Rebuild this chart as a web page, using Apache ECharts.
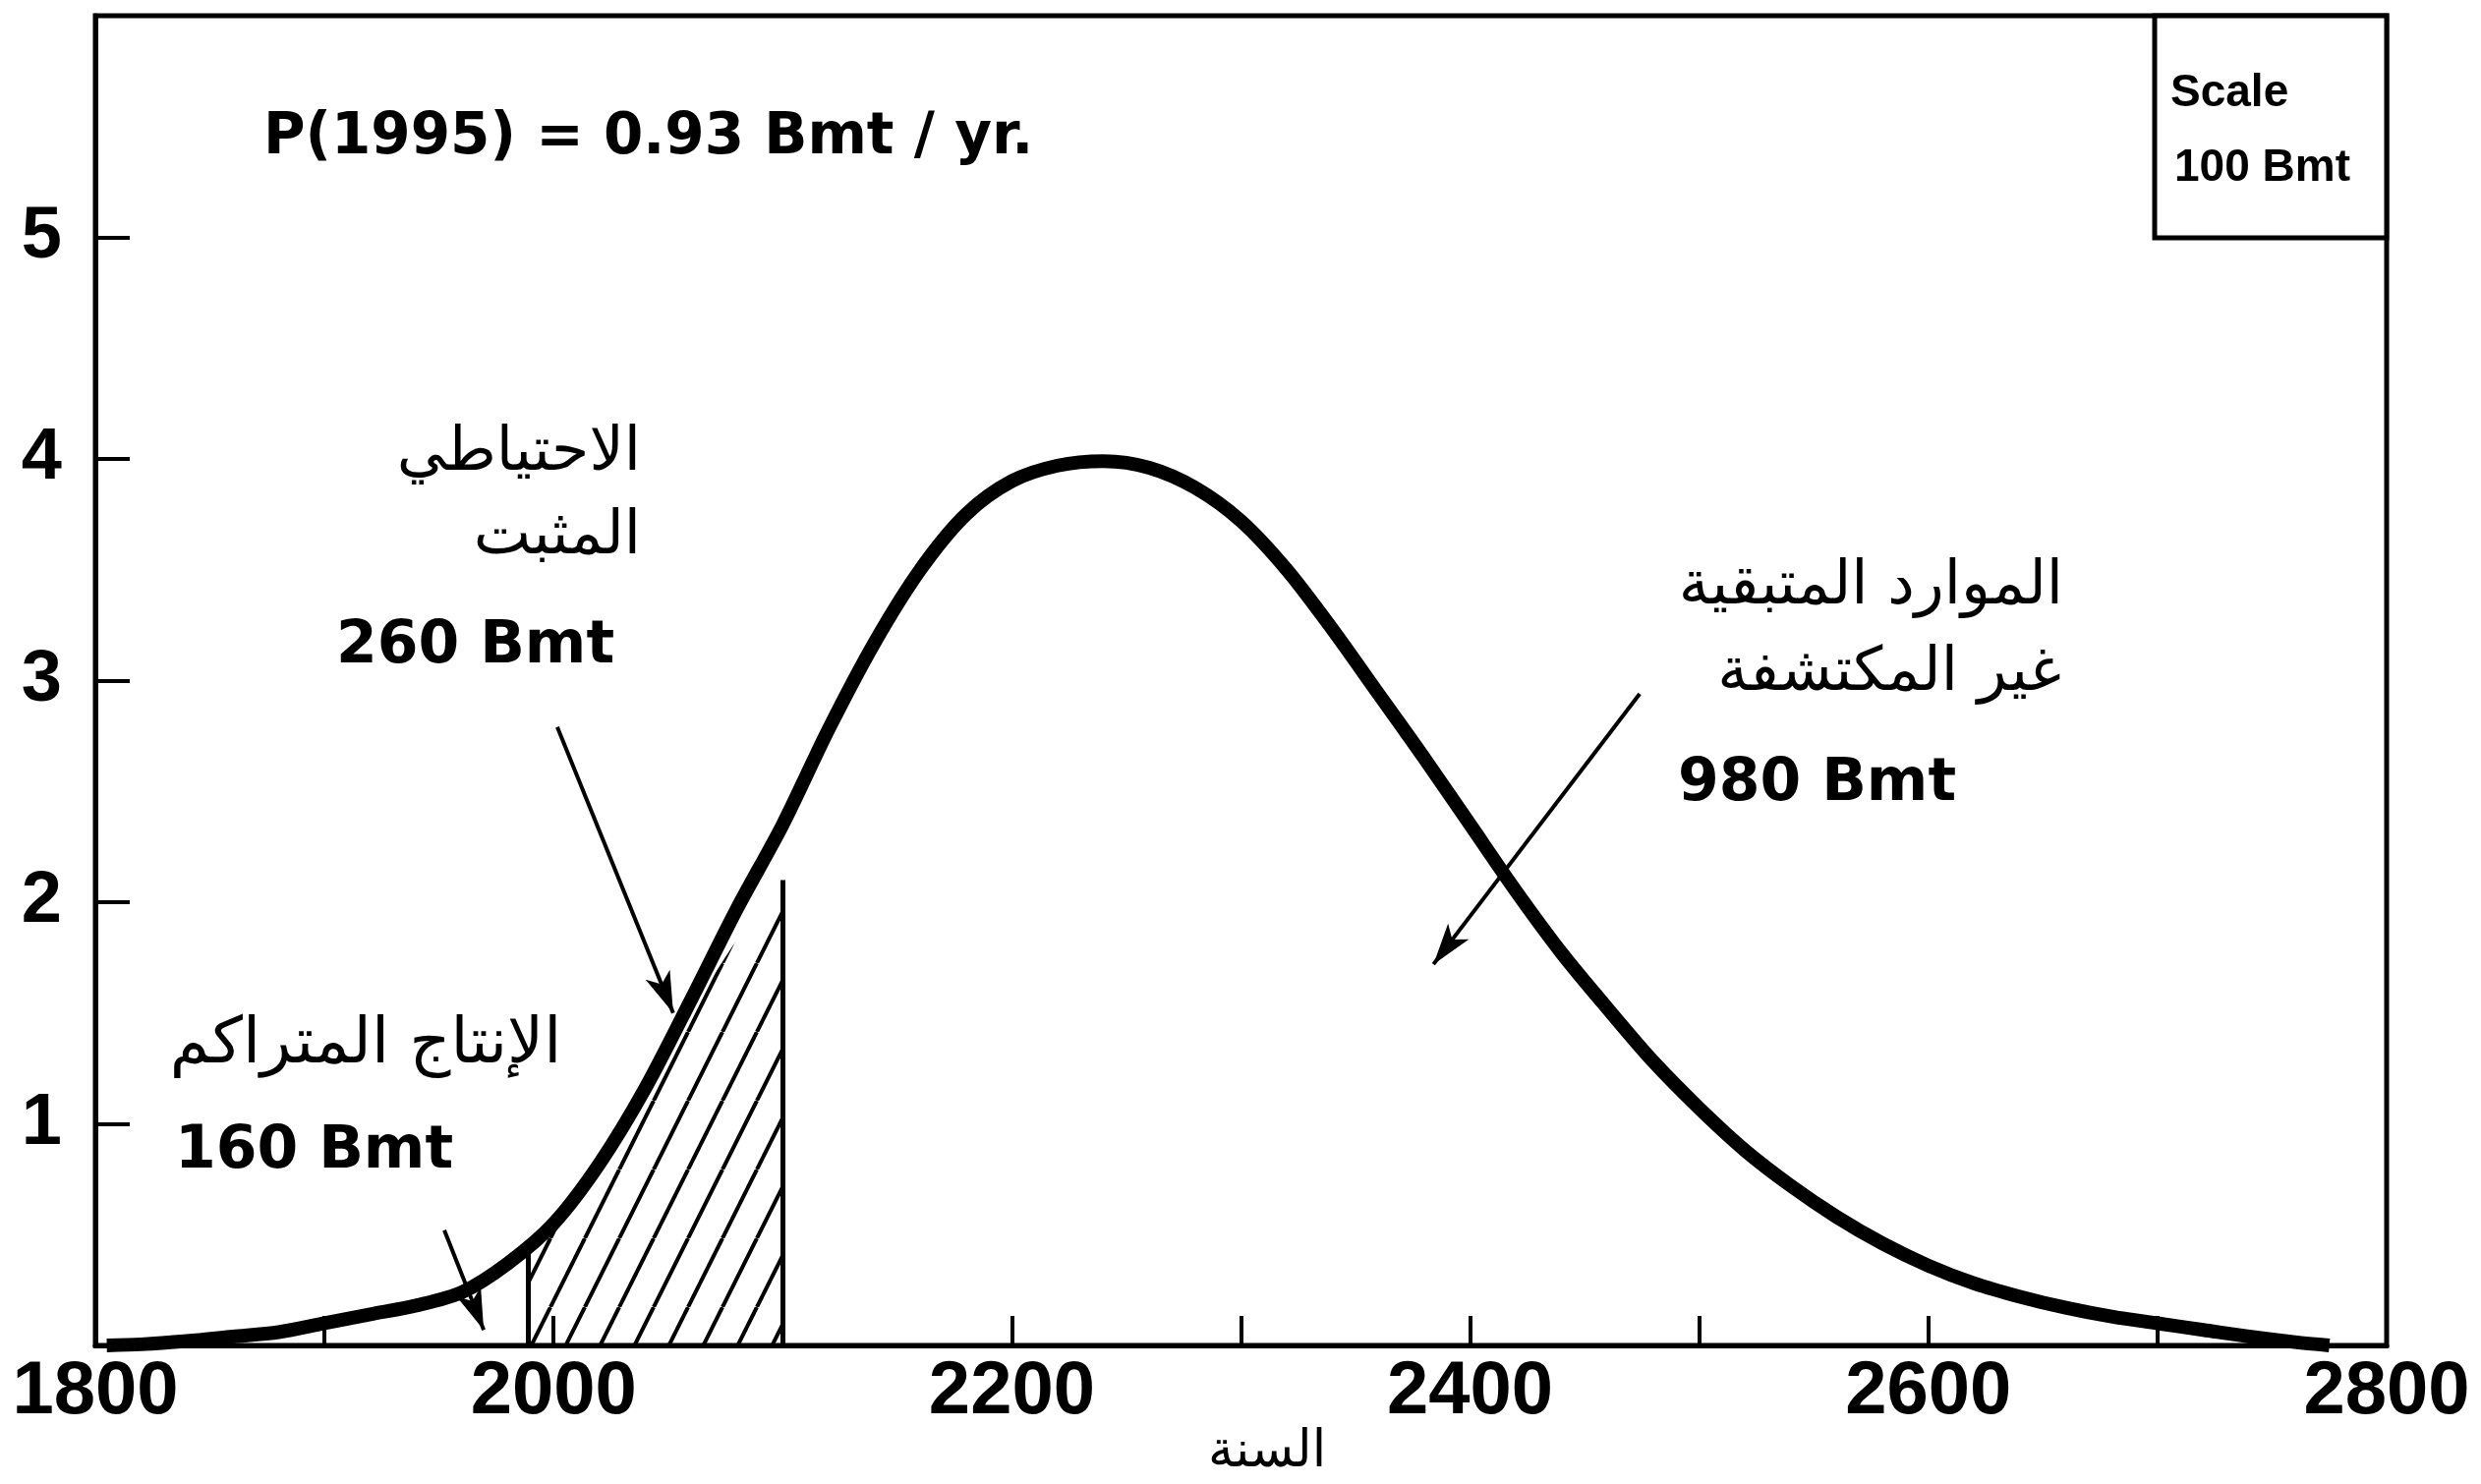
<!DOCTYPE html>
<html>
<head>
<meta charset="utf-8">
<script src="https://cdn.jsdelivr.net/npm/echarts@6/dist/echarts.min.js"></script>
<style>
  html, body { margin: 0; padding: 0; background: #fff; }
  #chart { width: 2524px; height: 1510px; }
</style>
</head>
<body>
<div id="chart"></div>
<script>
// production curve (Bmt / yr)
var years = [1805, 1820, 1840, 1860, 1880, 1900, 1920, 1940, 1960, 1980, 2000, 2020, 2040, 2060, 2080, 2100, 2120, 2140, 2160, 2180, 2200, 2220, 2240, 2260, 2280, 2300, 2320, 2340, 2360, 2380, 2400, 2420, 2440, 2460, 2480, 2500, 2520, 2540, 2560, 2580, 2600, 2620, 2640, 2660, 2680, 2700, 2720, 2740, 2760, 2775]
var production = [0, 0.005, 0.02, 0.04, 0.06, 0.10, 0.14, 0.18, 0.24, 0.37, 0.55, 0.82, 1.16, 1.56, 1.97, 2.35, 2.78, 3.17, 3.50, 3.75, 3.90, 3.97, 3.99, 3.96, 3.87, 3.72, 3.50, 3.23, 2.94, 2.65, 2.35, 2.05, 1.77, 1.52, 1.28, 1.07, 0.88, 0.72, 0.58, 0.46, 0.36, 0.28, 0.22, 0.17, 0.13, 0.10, 0.07, 0.04, 0.015, 0]

// proven reserves (hatched part)
var reserveYears = [1989, 1989, 2008, 2021, 2038, 2056, 2078, 2100, 2100]
var reserveValues = [0, 0.45, 0.63, 0.82, 1.10, 1.45, 1.80, 2.10, 0]

var xLabels = [1800, 2000, 2200, 2400, 2600, 2800]
var yLabels = [1, 2, 3, 4, 5]

// arrows: [from, to] in [year, value]
var arrows = [
  [[2001.6, 2.79], [2052.2, 1.50]],
  [[2474, 2.94], [2384, 1.72]],
  [[1952.3, 0.52], [1969.5, 0.07]]
]

var chartDom = document.getElementById('chart')
var myChart = echarts.init(chartDom)
var option

var hatch = document.createElement('canvas')
hatch.width = 35
hatch.height = 70
var hctx = hatch.getContext('2d')
hctx.strokeStyle = '#000'
hctx.lineWidth = 4
;[[-35, 0], [0, 35], [35, 70]].forEach(function (p) {
  hctx.beginPath()
  hctx.moveTo(p[0], 70)
  hctx.lineTo(p[1], 0)
  hctx.stroke()
})

var tickFont = "'Liberation Sans', Arial, sans-serif"
var noteFont = "'DejaVu Sans', sans-serif"
var arFont = "'DejaVu Sans', sans-serif"

option = {
  animation: false,
  backgroundColor: '#fff',
  grid: {
    left: 97,
    right: 96,
    top: 16,
    bottom: 141,
    show: true,
    borderColor: '#000',
    borderWidth: 5
  },
  xAxis: {
    type: 'value',
    min: 1800,
    max: 2800,
    interval: 100,
    splitLine: { show: false },
    axisLine: { lineStyle: { color: '#000', width: 5 } },
    axisTick: { inside: true, length: 30, lineStyle: { color: '#000', width: 4 } },
    axisLabel: {
      margin: 10,
      color: '#000',
      fontSize: 76,
      fontWeight: 'bold',
      fontFamily: tickFont,
      formatter: function (v) {
        return xLabels.indexOf(v) >= 0 ? String(v) : ''
      }
    }
  },
  yAxis: {
    type: 'value',
    min: 0,
    max: 6,
    interval: 1,
    splitLine: { show: false },
    axisLine: { lineStyle: { color: '#000', width: 5 } },
    axisTick: { inside: true, length: 35, lineStyle: { color: '#000', width: 4 } },
    axisLabel: {
      margin: 34,
      color: '#000',
      fontSize: 74,
      fontWeight: 'bold',
      fontFamily: tickFont,
      formatter: function (v) {
        return yLabels.indexOf(v) >= 0 ? String(v) : ''
      }
    }
  },
  series: [
    {
      name: 'reserves',
      type: 'line',
      data: reserveYears.map(function (y, i) { return [y, reserveValues[i]] }),
      symbol: 'none',
      silent: true,
      z: 2,
      lineStyle: { width: 0, opacity: 0 },
      areaStyle: { color: { image: hatch, repeat: 'repeat' }, opacity: 1 },
      markLine: {
        silent: true,
        symbol: ['none', 'none'],
        label: { show: false },
        lineStyle: { color: '#000', width: 5, type: 'solid' },
        data: [
          [{ coord: [reserveYears[0], 0] }, { coord: [reserveYears[1], reserveValues[1]] }],
          [{ coord: [reserveYears[8], 0] }, { coord: [reserveYears[7], reserveValues[7]] }]
        ]
      }
    },
    {
      name: 'production',
      type: 'line',
      data: years.map(function (y, i) { return [y, production[i]] }),
      symbol: 'none',
      smooth: 0.3,
      z: 3,
      lineStyle: { color: '#000', width: 14 },
      markLine: {
        silent: true,
        symbol: ['none', 'arrow'],
        symbolSize: [20, 42],
        label: { show: false },
        lineStyle: { color: '#000', width: 4, type: 'solid' },
        data: arrows.map(function (a) {
          return [{ coord: a[0] }, { coord: a[1] }]
        })
      }
    }
  ],
  graphic: [
    {
      type: 'rect',
      shape: { x: 2192, y: 16, width: 236, height: 226 },
      style: { fill: '#fff', stroke: '#000', lineWidth: 5 },
      z: 10
    },
    { type: 'text', left: 2208, top: 72, z: 11, style: { text: 'Scale', font: 'bold 46px ' + tickFont, fill: '#000' } },
    { type: 'text', left: 2212, top: 148, z: 11, style: { text: '100 Bmt', font: 'bold 46px ' + tickFont, fill: '#000' } },
    { type: 'text', left: 268, top: 112, z: 11, style: { text: 'P(1995) = 0.93 Bmt / yr.', font: 'bold 58px ' + noteFont, fill: '#000' } },
    { type: 'text', left: 342, top: 628, z: 11, style: { text: '260 Bmt', font: 'bold 60px ' + noteFont, fill: '#000' } },
    { type: 'text', left: 178, top: 1142, z: 11, style: { text: '160 Bmt', font: 'bold 60px ' + noteFont, fill: '#000' } },
    { type: 'text', left: 1707, top: 768, z: 11, style: { text: '980 Bmt', font: 'bold 60px ' + noteFont, fill: '#000' } },
    { type: 'text', x: 652, y: 462, z: 11, style: { text: 'الاحتياطي', font: '62px ' + arFont, fill: '#000', align: 'right', verticalAlign: 'middle' } },
    { type: 'text', x: 652, y: 547, z: 11, style: { text: 'المثبت', font: '62px ' + arFont, fill: '#000', align: 'right', verticalAlign: 'middle' } },
    { type: 'text', x: 2099, y: 598, z: 11, style: { text: 'الموارد المتبقية', font: '62px ' + arFont, fill: '#000', align: 'right', verticalAlign: 'middle' } },
    { type: 'text', x: 2097, y: 686, z: 11, style: { text: 'غير المكتشفة', font: '62px ' + arFont, fill: '#000', align: 'right', verticalAlign: 'middle' } },
    { type: 'text', x: 372, y: 1064, z: 11, style: { text: 'الإنتاج المتراكم', font: '65px ' + arFont, fill: '#000', align: 'center', verticalAlign: 'middle' } },
    { type: 'text', x: 1289, y: 1478, z: 11, style: { text: 'السنة', font: '52px ' + arFont, fill: '#000', align: 'center', verticalAlign: 'middle' } }
  ]
}

option && myChart.setOption(option)
</script>
</body>
</html>
